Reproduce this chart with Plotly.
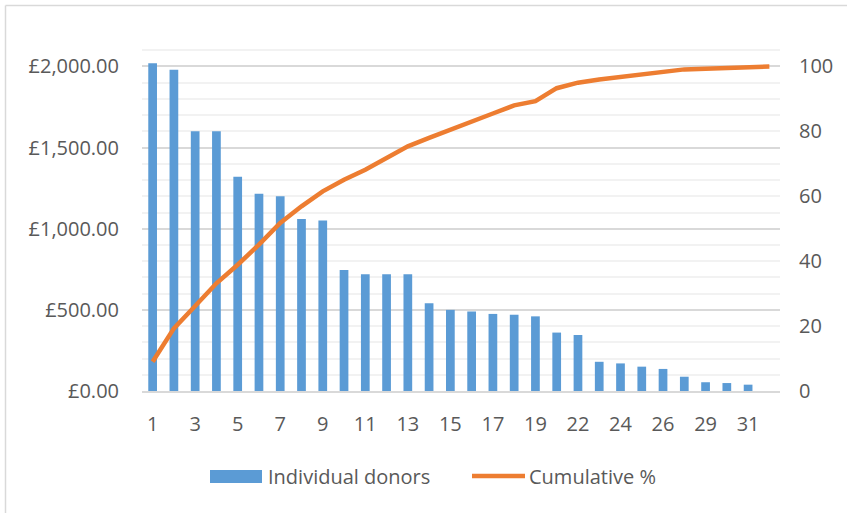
import plotly.graph_objects as go

categories = [str(i) for i in range(1, 20)] + ["20", "22", "23", "24", "25", "26", "28", "29", "30", "31", "32"]
tick_labels = categories[::2]

donations = [2020, 1980, 1600, 1600, 1320, 1215, 1200, 1060, 1050, 745,
             720, 720, 720, 540, 500, 490, 475, 470, 460, 360,
             345, 180, 170, 150, 136, 88, 54, 49, 39, None]

cumulative_pct = [9.0, 19.3, 26.2, 33.2, 38.9, 45.1, 51.8, 56.9, 61.5, 65.1,
                  68.2, 71.8, 75.4, 78.0, 80.6, 83.1, 85.5, 88.0, 89.3, 93.3,
                  95.0, 96.0, 96.7, 97.5, 98.3, 99.1, 99.3, 99.6, 99.8, 100.0]

left_ticks = [0, 500, 1000, 1500, 2000]
left_tick_text = ["£0.00", "£500.00", "£1,000.00", "£1,500.00", "£2,000.00"]
right_ticks = [0, 20, 40, 60, 80, 100]

FONT = "Open Sans"
TXT = "#595959"
FS = 20
BLUE = "#5B9BD5"
ORANGE = "#ED7D31"

# plot-area geometry (pixels)
L, R, T, B = 142, 780, 34, 391
W = R - L
H = B - T


def px(x):
    return (x - L) / W


def py(y):
    return (B - y) / H


fig = go.Figure()
fig.add_trace(go.Bar(x=categories, y=donations, name="Individual donors",
                     marker=dict(color=BLUE, line=dict(width=0)), showlegend=False))
fig.add_trace(go.Scatter(x=categories, y=cumulative_pct, name="Cumulative %",
                         mode="lines", yaxis="y2", showlegend=False,
                         line=dict(color=ORANGE, width=4.5)))

legend_y = 476
shapes = [
    dict(type="line", xref="paper", yref="paper",
         x0=px(5.5), x1=px(5.5), y0=py(600), y1=py(5.5),
         line=dict(color="#d9d9d9", width=1.5), layer="below"),
    dict(type="line", xref="paper", yref="paper",
         x0=px(5.5), x1=px(900), y0=py(5.5), y1=py(5.5),
         line=dict(color="#d9d9d9", width=1.5), layer="below"),
    dict(type="rect", xref="paper", yref="paper",
         x0=px(210), x1=px(262), y0=py(483), y1=py(470),
         fillcolor=BLUE, line=dict(width=0)),
    dict(type="line", xref="paper", yref="paper",
         x0=px(472), x1=px(525), y0=py(legend_y), y1=py(legend_y),
         line=dict(color=ORANGE, width=4.5)),
]
annotations = [
    dict(text="Individual donors", xref="paper", yref="paper", x=px(266), y=py(legend_y),
         xanchor="left", yanchor="middle", showarrow=False, font=dict(size=FS, color=TXT)),
    dict(text="Cumulative %", xref="paper", yref="paper", x=px(527), y=py(legend_y),
         xanchor="left", yanchor="middle", showarrow=False, font=dict(size=FS, color=TXT)),
]

fig.update_layout(
    width=847, height=513,
    margin=dict(l=L, r=847 - R, t=T, b=513 - B),
    paper_bgcolor="white", plot_bgcolor="white",
    font=dict(family=FONT, size=FS, color=TXT),
    bargap=0.59,
    showlegend=False,
    xaxis=dict(type="category", tickmode="array", tickvals=tick_labels, ticktext=tick_labels,
               showgrid=False, showline=True, linecolor="#d9d9d9", linewidth=1.5,
               ticks="", ticklabelstandoff=14, tickfont=dict(size=FS, color=TXT)),
    yaxis=dict(range=[0, 2200], tickmode="array", tickvals=left_ticks, ticktext=left_tick_text,
               showgrid=True, gridcolor="#d9d9d9", gridwidth=1.5, zeroline=False,
               minor=dict(dtick=100, showgrid=True, gridcolor="#f2f2f2", gridwidth=1.5),
               ticks="", ticklabelstandoff=22, tickfont=dict(size=FS, color=TXT)),
    yaxis2=dict(range=[0, 110], tickmode="array", tickvals=right_ticks, overlaying="y", side="right",
                showgrid=False, zeroline=False, ticks="", ticklabelstandoff=18,
                tickfont=dict(size=FS, color=TXT)),
    shapes=shapes,
    annotations=annotations,
)

fig.write_html("out.html", config={"displayModeBar": False},
               post_script="document.body.style.margin='0';")
